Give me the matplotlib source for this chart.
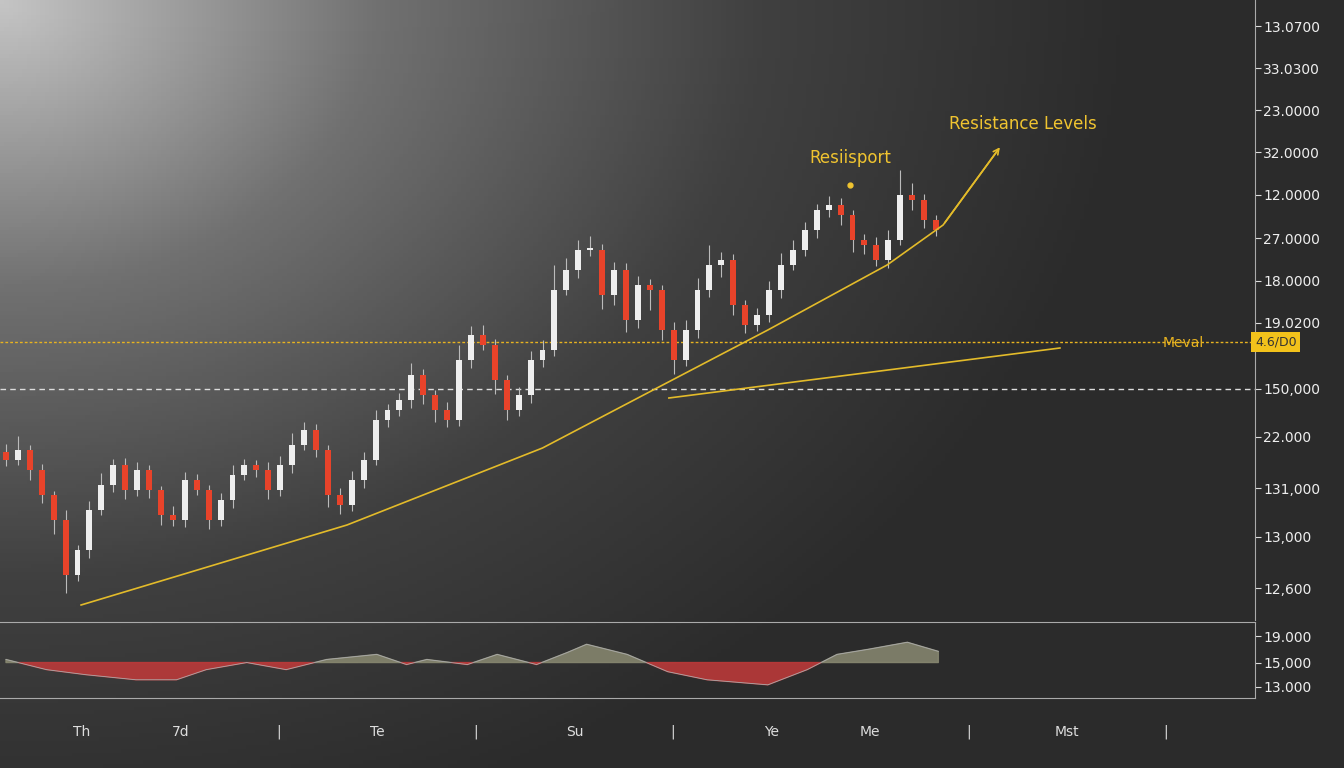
import matplotlib
matplotlib.use('Agg')
import matplotlib.pyplot as plt
import numpy as np

# closes, in chart units (higher = up); one per candle
closes = [308, 318, 298, 273, 248, 193, 218, 258, 283, 303, 278, 298, 278, 253, 248, 288,
          278, 248, 268, 293, 303, 298, 278, 303, 323, 338, 318, 273, 263, 288, 308, 348,
          358, 368, 393, 373, 358, 348, 408, 433, 423, 388, 358, 373, 408, 418, 478, 498,
          518, 518, 473, 498, 448, 483, 478, 438, 408, 438, 478, 503, 508, 463, 443, 453,
          478, 503, 518, 538, 558, 563, 553, 528, 523, 508, 528, 573, 568, 548, 538]
wick_up = [8, 14, 5, 6, 4, 10, 5, 9, 12, 6, 7, 8, 5, 4, 9, 8, 6, 5, 7, 10, 6, 5, 8, 9,
           12, 8, 6, 5, 7, 9, 8, 10, 6, 7, 12, 6, 5, 8, 15, 9, 10, 6, 5, 8, 9, 10, 25, 12,
           10, 14, 6, 8, 7, 9, 6, 5, 8, 10, 12, 20, 8, 6, 5, 7, 9, 12, 10, 8, 6, 9, 7, 5,
           6, 8, 10, 25, 12, 6, 5]
wick_dn = [6, 5, 10, 8, 14, 18, 6, 8, 5, 7, 9, 6, 8, 10, 6, 7, 5, 9, 6, 8, 5, 7, 9, 6,
           8, 5, 7, 12, 9, 6, 8, 5, 7, 6, 8, 9, 12, 7, 6, 8, 5, 14, 10, 6, 8, 7, 6, 5,
           8, 6, 14, 10, 12, 8, 20, 10, 14, 6, 8, 7, 12, 10, 8, 6, 7, 8, 5, 6, 8, 7, 10,
           12, 9, 6, 8, 5, 10, 8, 6]

# support curve and second trendline, (candle index, chart units)
support_x = [6.3, 28.6, 45.0, 54.6, 63.9, 73.9, 78.6, 83.2]
support_y = [163, 243, 320, 380, 438, 503, 543, 618]
trend2_x = [55.6, 88.4]
trend2_y = [370, 420]

# oscillator panel
osc_x = [0, 3.4, 6.7, 10.9, 14.3, 16.8, 20.2, 23.5, 26.9, 31.1, 33.6, 35.3, 38.7, 41.2,
         44.5, 47.1, 48.7, 52.1, 55.5, 58.8, 63.9, 67.2, 69.7, 72.3, 75.6, 78.2]
osc_y = [3, -7, -12, -17, -17, -7, 0, -7, 3, 8, -2, 3, -2, 8, -2, 10, 18, 8, -9, -17, -22, -7, 8, 13, 20, 11]

price_ticks = [742, 700, 658, 616, 573, 530, 487, 445, 379, 331, 280, 231, 180]
price_labels = ['13.0700', '33.0300', '23.0000', '32.0000', '12.0000', '27.0000', '18.0000',
                '19.0200', '150,000', '22.000', '131,000', '13,000', '12,600']
osc_ticks = [26, 0, -24]
osc_labels = ['19.000', '15,000', '13.000']
day_labels = ['Th', '7d', '|', 'Te', '|', 'Su', '|', 'Ye', 'Me', '|', 'Mst', '|']

fig = plt.figure(figsize=(13.44, 7.68), dpi=100)

# background gradient
bg = fig.add_axes([0, 0, 1, 1])
yy, xx = np.mgrid[0:1:200j, 0:1:300j]
d = np.clip(np.sqrt((xx * 1.0) ** 2 + (yy * 0.75) ** 2) / 0.85, 0, 1)
bg.imshow(d, cmap=matplotlib.colors.LinearSegmentedColormap.from_list(
    'g', ['#c4c4c4', '#707070', '#404040', '#2b2b2b']), aspect='auto', extent=[0, 1, 1, 0])
bg.axis('off')

W = 1255 / 1344
step = 930 / (len(closes) - 1)
ax = fig.add_axes([0, 1 - 620 / 768, W, 620 / 768])
ax.patch.set_alpha(0)
xmax = 1255 / step - 0.5
ax.set_xlim(-0.5, xmax)
ax.set_ylim(148, 768)

opens = [closes[0] + 8] + closes[:-1]
for i, c in enumerate(closes):
    o = opens[i]
    up = c >= o
    col = '#eeeeee' if up else '#e8432a'
    hi = max(o, c) + wick_up[i]
    lo = min(o, c) - wick_dn[i]
    ax.vlines(i, lo, hi, color='#bbbbbb', lw=0.8, zorder=2)
    ax.bar(i, abs(c - o) or 2, bottom=min(o, c), width=0.5, color=col, zorder=3)

ax.axhline(426, color='#e8b320', lw=1, ls=(0, (2, 1.5)), zorder=1)
ax.axhline(379, color='#dddddd', lw=1, ls=(0, (4, 3)), zorder=1)
ax.plot(support_x, support_y, color='#e3bb2a', lw=1.2, zorder=4)
ax.annotate('', xy=(support_x[-1] + 0.3, support_y[-1] + 5), xytext=(support_x[-2], support_y[-2]),
            arrowprops=dict(arrowstyle='->', color='#e3bb2a', lw=1.2))
ax.plot(trend2_x, trend2_y, color='#e3bb2a', lw=1.2, zorder=4)
ax.text(85.3, 644, 'Resistance Levels', color='#f0c430', fontsize=12, ha='center', va='center')
ax.text(70.8, 610, 'Resiisport', color='#f0c430', fontsize=12, ha='center', va='center')
ax.plot([70.8], [583], 'o', color='#f0c430', ms=3.5)
ax.text(98.7, 425, 'Meval', color='#e8b320', fontsize=10, ha='center', va='center')

ax.yaxis.tick_right()
ax.set_yticks(price_ticks)
ax.set_yticklabels(price_labels)
ax.tick_params(axis='y', colors='#dddddd', labelcolor='#eeeeee', labelsize=10, length=4, pad=2)
ax.set_xticks([])
for s in ['top', 'left', 'bottom']:
    ax.spines[s].set_visible(False)
ax.spines['right'].set_color('#aaaaaa')
ax.text(1.0, 426, '4.6/D0', transform=ax.get_yaxis_transform(), color='#333333', fontsize=9,
        ha='left', va='center', bbox=dict(boxstyle='square,pad=0.3', fc='#f2c21b', ec='none'))

# oscillator panel
ox = fig.add_axes([0, 1 - 698 / 768, W, 76 / 768])
ox.patch.set_alpha(0)
ox.set_xlim(-0.5, xmax)
ox.set_ylim(-35, 40)
oy = np.array(osc_y)
ox.fill_between(osc_x, 0, oy, where=oy >= 0, interpolate=True, color='#8a8a72', alpha=0.85)
ox.fill_between(osc_x, 0, oy, where=oy < 0, interpolate=True, color='#c23a3a', alpha=0.85)
ox.plot(osc_x, oy, color='#aaaaaa', lw=0.6)
ox.yaxis.tick_right()
ox.set_yticks(osc_ticks)
ox.set_yticklabels(osc_labels)
ox.tick_params(axis='y', colors='#dddddd', labelcolor='#eeeeee', labelsize=10, length=4, pad=2)
ox.set_xticks([])
ox.spines['left'].set_visible(False)
for s in ['top', 'bottom', 'right']:
    ox.spines[s].set_color('#aaaaaa')

for k, lab in enumerate(day_labels):
    fig.text((82 + 98.5 * k) / 1344, 1 - 732 / 768, lab, color='#dddddd', fontsize=10,
             ha='center', va='center')

fig.savefig('out.png', dpi=100)
